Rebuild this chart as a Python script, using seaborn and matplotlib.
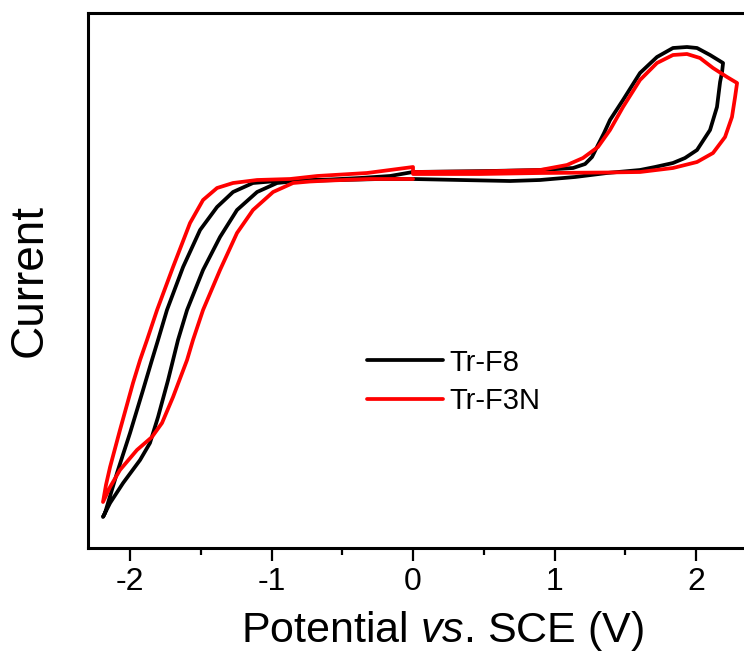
import matplotlib
matplotlib.use("Agg")
import matplotlib.pyplot as plt
import seaborn as sns
import pandas as pd
from matplotlib.ticker import MultipleLocator

# ---- data (potential in V vs SCE, current in arbitrary units), scan order ----
f8_potential = [
    0, 0.261, 0.544, 0.898, 1.131, 1.216, 1.265, 1.307, 1.350, 1.392, 1.484, 1.604, 1.724, 1.837, 1.936, 2.007, 2.099, 2.191,
    2.184, 2.170, 2.148, 2.099, 2.007, 1.922, 1.837, 1.710, 1.604, 1.371, 1.145, 0.898, 0.686, 0.332, 0,
    -0.233, -0.516, -0.820, -0.961, -1.102, -1.244, -1.364, -1.484, -1.597, -1.661, -1.696, -1.731, -1.802, -1.859, -1.929, -2.049, -2.141, -2.191,
    -2.177, -2.092, -2.000, -1.908, -1.845, -1.802, -1.739, -1.625, -1.505, -1.385, -1.272, -1.131, -0.961, -0.657, -0.375, -0.163, 0,
]
f8_current = [
    0.04, 0.045, 0.05, 0.06, 0.08, 0.12, 0.19, 0.31, 0.43, 0.56, 0.76, 1.03, 1.19, 1.28, 1.29, 1.28, 1.21, 1.13,
    1.04, 0.94, 0.69, 0.46, 0.26, 0.18, 0.13, 0.09, 0.06, 0.03, -0.01, -0.04, -0.05, -0.04, -0.03,
    -0.03, -0.04, -0.05, -0.07, -0.16, -0.34, -0.61, -0.94, -1.34, -1.64, -1.84, -2.04, -2.41, -2.67, -2.84, -3.07, -3.27, -3.41,
    -3.37, -2.97, -2.57, -2.14, -1.84, -1.64, -1.34, -0.91, -0.54, -0.31, -0.16, -0.07, -0.05, -0.04, -0.02, 0.00, 0.04,
]

f3n_potential = [
    0, -0.304, -0.587, -0.728, -0.848, -0.989, -1.131, -1.244, -1.364, -1.484, -1.555, -1.597, -1.696, -1.774, -1.845, -1.951, -2.071, -2.141, -2.191,
    -2.170, -2.141, -2.071, -1.979, -1.929, -1.880, -1.809, -1.696, -1.576, -1.484, -1.385, -1.272, -1.102, -0.869, -0.678, -0.325, 0,
    0, 0.473, 0.898, 1.088, 1.201, 1.307, 1.392, 1.484, 1.604, 1.724, 1.837, 1.936, 2.028, 2.120, 2.219, 2.290,
    2.276, 2.254, 2.205, 2.120, 2.007, 1.837, 1.604, 1.371, 0.898, 0.473, 0,
]
f3n_current = [
    -0.03, -0.03, -0.045, -0.055, -0.07, -0.16, -0.34, -0.57, -0.94, -1.34, -1.64, -1.84, -2.21, -2.47, -2.61, -2.74, -2.94, -3.11, -3.26,
    -3.09, -2.91, -2.54, -2.07, -1.84, -1.64, -1.34, -0.91, -0.47, -0.24, -0.12, -0.07, -0.04, -0.03, 0.00, 0.03, 0.09,
    0.04, 0.045, 0.06, 0.11, 0.18, 0.29, 0.46, 0.69, 0.96, 1.13, 1.21, 1.22, 1.18, 1.08, 0.99, 0.93,
    0.79, 0.59, 0.39, 0.23, 0.14, 0.08, 0.04, 0.035, 0.03, 0.02, 0.02,
]

series_names = ["Tr-F8", "Tr-F3N"]
series_colors = ["#000000", "#ff0000"]
x_ticks = [-2, -1, 0, 1, 2]
x_tick_labels = ["-2", "-1", "0", "1", "2"]

df = pd.concat([
    pd.DataFrame({"Potential": f8_potential, "Current": f8_current, "Sample": series_names[0]}),
    pd.DataFrame({"Potential": f3n_potential, "Current": f3n_current, "Sample": series_names[1]}),
], ignore_index=True)

sns.set_style("ticks")
plt.rcParams["font.family"] = ["Liberation Sans", "DejaVu Sans"]
plt.rcParams["mathtext.fontset"] = "custom"
plt.rcParams["mathtext.rm"] = "Liberation Sans"
plt.rcParams["mathtext.it"] = "Liberation Sans:italic"
plt.rcParams["text.color"] = "black"
plt.rcParams["axes.labelcolor"] = "black"
plt.rcParams["xtick.color"] = "black"
plt.rcParams["ytick.color"] = "black"

fig = plt.figure(figsize=(7.44, 6.53), dpi=100)
ax = fig.add_axes([88 / 744, 1 - 548 / 653, 1 - 88 / 744, (548 - 13) / 653])

for name, color in zip(series_names, series_colors):
    sub = df[df["Sample"] == name]
    sns.lineplot(data=sub, x="Potential", y="Current", sort=False,
                 estimator=None, color=color, linewidth=2.7, ax=ax, label=name)
for line in ax.lines:
    line.set_solid_joinstyle("round")
    line.set_solid_capstyle("round")

ax.set_xlim(-2.297, 2.339)
ax.set_ylim(-3.72, 1.63)

ax.set_xticks(x_ticks)
ax.set_xticklabels(x_tick_labels)
ax.xaxis.set_minor_locator(MultipleLocator(0.5))
ax.set_yticks([])
ax.tick_params(axis="x", which="major", direction="out", length=9, width=1.6,
               labelsize=23, pad=5, colors="black")
ax.tick_params(axis="x", which="minor", direction="out", length=5, width=1.6)

for side in ["left", "bottom", "top"]:
    ax.spines[side].set_linewidth(2.2)
    ax.spines[side].set_color("black")
ax.spines["right"].set_visible(False)

ax.set_xlabel(r"Potential $\mathit{vs}$. SCE (V)", fontsize=31, color="black")
ax.xaxis.set_label_coords((443 - 88) / 656, -0.114)
ax.set_ylabel("Current", fontsize=33, color="black")
ax.yaxis.set_label_coords((52 - 88) / 656, 0.5)

leg = ax.legend(loc="upper left", bbox_to_anchor=((355 - 88) / 656, (548 - 337) / 535),
                frameon=False, fontsize=21, handlelength=2.6, handletextpad=0.25,
                labelspacing=0.35, borderaxespad=0)
for h in leg.get_lines():
    h.set_linewidth(2.7)
for t in leg.get_texts():
    t.set_color("black")

fig.savefig("out.png", dpi=100)
